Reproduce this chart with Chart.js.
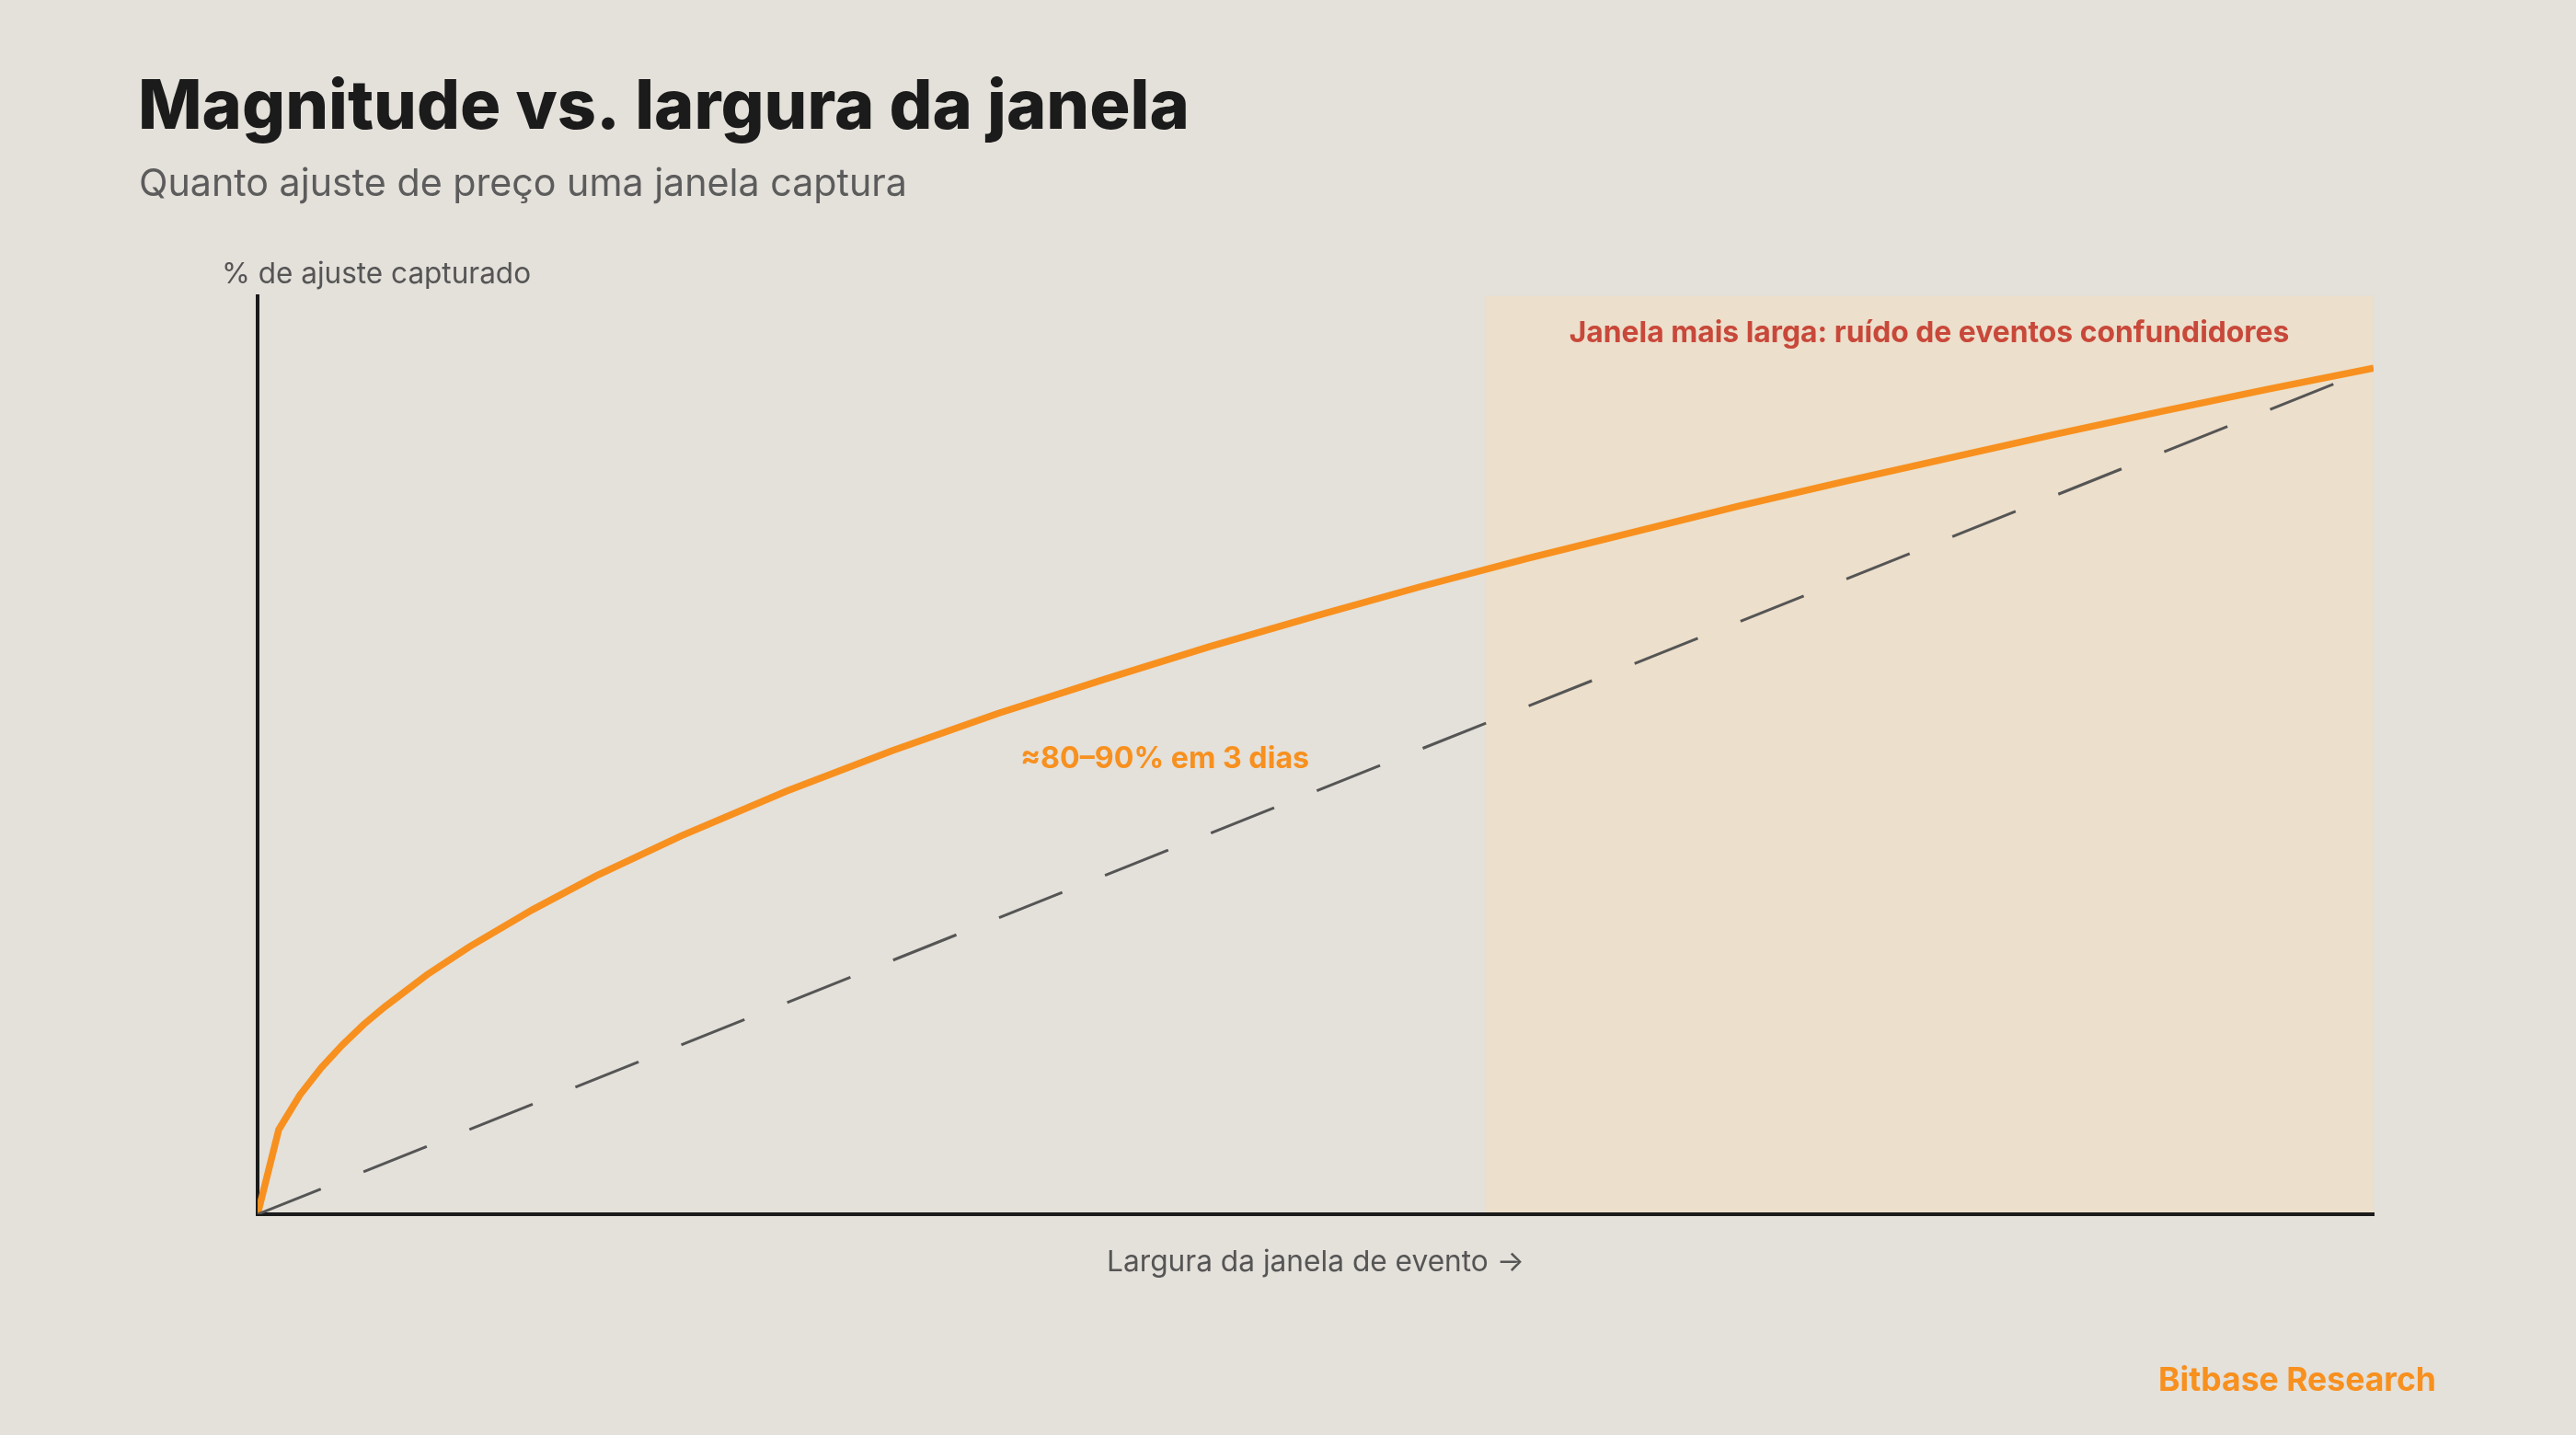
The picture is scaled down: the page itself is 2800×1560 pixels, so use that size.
<!DOCTYPE html>
<html>
<head>
<meta charset="utf-8">
<script src="https://cdn.jsdelivr.net/npm/chart.js@4.4.1/dist/chart.umd.min.js"></script>
<style>
  html, body { margin:0; padding:0; background:#e4e0da; }
  #wrap { position:relative; width:2800px; height:1560px; }
  canvas { display:block; }
</style>
</head>
<body>
<div id="wrap"><canvas id="c" width="2800" height="1560"></canvas></div>
<script>
// ---- data ----
const windowWidth = [0, 1, 2, 3, 4, 5, 6, 8, 10, 13, 16, 20, 25, 30, 35, 40, 45, 50, 55, 60, 65, 70, 75, 80, 85, 90, 95, 100];
const captured    = [0, 10, 14.1, 17.3, 20, 22.4, 24.5, 28.3, 31.6, 36, 40, 44.7, 50, 54.8, 59.2, 63.2, 67.1, 70.7, 74.2, 77.5, 80.6, 83.7, 86.6, 89.4, 92.2, 94.9, 97.5, 100];
const linearX     = [0, 100];
const linearY     = [0, 100];
const noisyRange  = [58, 100];
const titleText    = 'Magnitude vs. largura da janela';
const subtitleText = 'Quanto ajuste de preço uma janela captura';
const yTitleText   = '% de ajuste capturado';
const xTitleText   = 'Largura da janela de evento →';
const curveNote    = '≈80–90% em 3 dias';
const noisyNote    = 'Janela mais larga: ruído de eventos confundidores';
const footerText   = 'Bitbase Research';

const FAMILY = 'Inter, "Open Sans", sans-serif';

function fitFont(ctx, text, weight, target) {
  ctx.font = weight + ' 100px ' + FAMILY;
  const w = ctx.measureText(text).width;
  return weight + ' ' + (100 * target / w).toFixed(2) + 'px ' + FAMILY;
}
function drawText(ctx, text, weight, width, color, x, y, align) {
  ctx.save();
  ctx.font = fitFont(ctx, text, weight, width);
  ctx.fillStyle = color;
  ctx.textAlign = align;
  ctx.textBaseline = 'alphabetic';
  ctx.fillText(text, x, y);
  ctx.restore();
}

const decor = {
  id: 'decor',
  beforeDraw(chart) {
    const ctx = chart.ctx, xs = chart.scales.x, a = chart.chartArea;
    ctx.save();
    ctx.fillStyle = '#e4e0da';
    ctx.fillRect(0, 0, chart.width, chart.height);
    const x0 = xs.getPixelForValue(noisyRange[0]);
    const x1 = xs.getPixelForValue(noisyRange[1]);
    ctx.fillStyle = '#ecdfcb';
    ctx.fillRect(x0, a.top, x1 - x0, a.bottom - a.top);
    ctx.restore();
  },
  afterDraw(chart) {
    const ctx = chart.ctx, xs = chart.scales.x, ys = chart.scales.y, a = chart.chartArea;
    drawText(ctx, titleText, '800', 1143, '#1b1b1b', 150, 140, 'left');
    drawText(ctx, subtitleText, '400', 835, '#5c5c5c', 151, 213, 'left');
    drawText(ctx, yTitleText, '400', 336, '#555555', a.left - 39, a.top - 14, 'left');
    drawText(ctx, xTitleText, '400', 454, '#555555', (a.left + a.right) / 2, a.bottom + 62, 'center');
    const sx = (xs.getPixelForValue(noisyRange[0]) + xs.getPixelForValue(noisyRange[1])) / 2;
    drawText(ctx, noisyNote, '700', 783, '#c8483a', sx, a.top + 50, 'center');
    drawText(ctx, curveNote, '700', 314, '#f7901e', xs.getPixelForValue(36.05), ys.getPixelForValue(52.7), 'left');
    drawText(ctx, footerText, '700', 302, '#f7901e', 2648, 1512, 'right');
  }
};

new Chart(document.getElementById('c'), {
  type: 'scatter',
  data: {
    datasets: [
      {
        label: 'linear',
        data: linearX.map((x, i) => ({ x: x, y: linearY[i] })),
        showLine: true,
        borderColor: '#555555',
        borderWidth: 3,
        borderDash: [74, 50],
        pointRadius: 0,
        order: 1
      },
      {
        label: 'captured',
        data: windowWidth.map((x, i) => ({ x: x, y: captured[i] })),
        showLine: true,
        borderColor: '#f7901e',
        borderWidth: 7.5,
        pointRadius: 0,
        tension: 0,
        order: 2
      }
    ]
  },
  options: {
    responsive: false,
    animation: false,
    devicePixelRatio: 1,
    layout: { padding: { left: 280, right: 220, top: 322, bottom: 240 } },
    plugins: { legend: { display: false }, tooltip: { enabled: false } },
    scales: {
      x: {
        type: 'linear', min: 0, max: 100,
        ticks: { display: false },
        grid: { display: false, drawTicks: false },
        border: { display: true, color: '#1b1b1b', width: 4 }
      },
      y: {
        type: 'linear', min: 0, max: 108.5,
        ticks: { display: false },
        grid: { display: false, drawTicks: false },
        border: { display: true, color: '#1b1b1b', width: 4 }
      }
    }
  },
  plugins: [decor]
});
</script>
</body>
</html>
